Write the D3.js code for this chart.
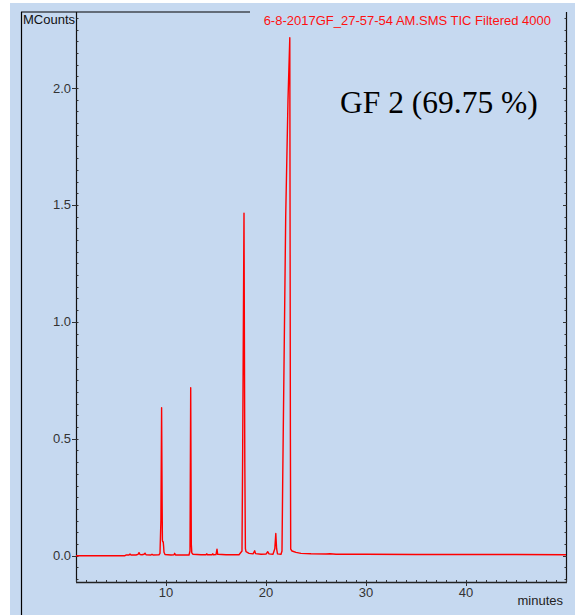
<!DOCTYPE html>
<html>
<head>
<meta charset="utf-8">
<script src="https://cdn.jsdelivr.net/npm/d3@7"></script>
<style>
html,body{margin:0;padding:0;background:#fff;}
svg{display:block;}
</style>
</head>
<body>
<svg id="chart" width="575" height="615"></svg>
<script>
// ---- data (minutes, MCounts) ----
const times = [1.0,5.9,6.0,6.3,6.4,6.5,7.0,7.2,7.3,7.4,7.6,7.8,7.9,8.0,8.5,8.6,8.7,9.3,9.4,
  9.49,9.56,9.61,9.64,9.67,9.72,9.76,9.8,9.9,10.5,10.8,10.87,10.95,
  12.3,12.4,12.47,12.53,12.58,12.7,13.5,14.0,14.07,14.15,14.6,14.67,14.75,15.0,15.1,15.17,16.0,
  17.3,17.6,17.66,17.8,17.88,17.94,18.0,18.3,18.7,18.87,18.95,19.5,20.0,20.17,20.3,20.7,20.88,20.98,21.06,21.15,
  21.5,21.6,21.67,21.97,22.2,22.38,22.44,22.47,22.6,23.0,23.5,24.5,26.0,26.4,27.0,30.0,35.0,40.0,45.0,50.0];
const counts = [0.000,0.000,0.003,0.003,0.007,0.003,0.003,0.006,0.013,0.005,0.004,0.006,0.011,0.004,0.003,0.006,0.003,0.004,0.010,
  0.15,0.633,0.25,0.067,0.06,0.06,0.041,0.015,0.005,0.003,0.004,0.010,0.003,
  0.003,0.02,0.718,0.05,0.012,0.006,0.004,0.004,0.008,0.004,0.004,0.008,0.004,0.005,0.028,0.006,0.004,
  0.004,0.02,0.4,1.465,0.4,0.03,0.017,0.010,0.008,0.021,0.009,0.006,0.007,0.017,0.008,0.006,0.03,0.095,0.03,0.008,
  0.006,0.02,0.32,1.45,1.95,2.215,0.5,0.028,0.02,0.014,0.010,0.008,0.007,0.008,0.006,0.006,0.005,0.005,0.005,0.004];
const xTicks = [10,20,30,40];
const yTicks = [0.0,0.5,1.0,1.5,2.0];
const yLabels = ["0.0","0.5","1.0","1.5","2.0"];
const titleText = "6-8-2017GF_27-57-54 AM.SMS TIC Filtered 4000";
const annotText = "GF 2 (69.75 %)";
const yUnit = "MCounts";
const xUnit = "minutes";

const svg = d3.select("#chart");
const W = 575, H = 615;
const bg = "rgb(198,217,240)";
const sans = "Liberation Sans, Arial, sans-serif";
svg.append("rect").attr("x",10).attr("y",3).attr("width",W-10).attr("height",H-3).attr("fill",bg);

const x = d3.scaleLinear().domain([1,50]).range([76,566]);
const y = d3.scaleLinear().domain([-0.1125,2.325]).range([582,12]);

// outer frame lines
svg.append("line").attr("x1",21.5).attr("x2",21.5).attr("y1",12).attr("y2",615).attr("stroke","#000").attr("stroke-width",1.2);
svg.append("line").attr("x1",21).attr("x2",250).attr("y1",12).attr("y2",12).attr("stroke","#000").attr("stroke-width",1.2);

// y axis (left)
const yMinor = d3.range(-0.1, 2.3001, 0.05);
const gy = svg.append("g");
gy.append("line").attr("x1",76.5).attr("x2",76.5).attr("y1",12).attr("y2",582).attr("stroke","#111").attr("stroke-width",1.2);
gy.selectAll(".ym").data(yMinor).join("line")
  .attr("x1",76.5).attr("x2",78.5).attr("y1",d=>Math.round(y(d))+0.5).attr("y2",d=>Math.round(y(d))+0.5)
  .attr("stroke","#333").attr("stroke-width",1);
gy.selectAll(".yM").data(yTicks).join("line")
  .attr("x1",72).attr("x2",76.5).attr("y1",d=>Math.round(y(d))+0.5).attr("y2",d=>Math.round(y(d))+0.5)
  .attr("stroke","#333").attr("stroke-width",1);
gy.selectAll(".yl").data(yTicks).join("text")
  .attr("x",71).attr("y",d=>y(d)).attr("dy","0.35em").attr("text-anchor","end")
  .attr("font-family",sans).attr("font-size",13).attr("fill","#333")
  .text((d,i)=>yLabels[i]);

// right axis line
const gr = svg.append("g");
gr.append("line").attr("x1",566.5).attr("x2",566.5).attr("y1",12).attr("y2",582).attr("stroke","#111").attr("stroke-width",1.2);
gr.selectAll(".rm").data(yMinor).join("line")
  .attr("x1",564.5).attr("x2",566.5).attr("y1",d=>Math.round(y(d))+0.5).attr("y2",d=>Math.round(y(d))+0.5)
  .attr("stroke","#333").attr("stroke-width",1);
gr.selectAll(".rM").data(yTicks).join("line")
  .attr("x1",563).attr("x2",566.5).attr("y1",d=>Math.round(y(d))+0.5).attr("y2",d=>Math.round(y(d))+0.5)
  .attr("stroke","#333").attr("stroke-width",1);

// x axis (bottom)
const xMinor = d3.range(1, 50.01, 1);
const gx = svg.append("g");
gx.append("line").attr("x1",76).attr("x2",567).attr("y1",582.5).attr("y2",582.5).attr("stroke","#222").attr("stroke-width",1.3);
gx.selectAll(".xm").data(xMinor).join("line")
  .attr("x1",d=>Math.round(x(d))+0.5).attr("x2",d=>Math.round(x(d))+0.5).attr("y1",580).attr("y2",582.5)
  .attr("stroke","#333").attr("stroke-width",1);
gx.selectAll(".xM").data(xTicks).join("line")
  .attr("x1",d=>Math.round(x(d))+0.5).attr("x2",d=>Math.round(x(d))+0.5).attr("y1",582.5).attr("y2",586)
  .attr("stroke","#333").attr("stroke-width",1);
gx.selectAll(".xl").data(xTicks).join("text")
  .attr("x",d=>x(d)).attr("y",597).attr("text-anchor","middle")
  .attr("font-family",sans).attr("font-size",13).attr("fill","#333")
  .text(d=>d);

// unit labels
svg.append("text").attr("x",23).attr("y",24).attr("font-family",sans)
  .attr("font-size",13).attr("fill","#111").text(yUnit);
svg.append("text").attr("x",563).attr("y",605).attr("text-anchor","end").attr("font-family",sans)
  .attr("font-size",13).attr("fill","#222").text(xUnit);

// title
svg.append("text").attr("x",551).attr("y",25).attr("text-anchor","end").attr("font-family",sans)
  .attr("font-size",13).attr("fill","#ff1010").text(titleText);

// annotation
svg.append("text").attr("x",340).attr("y",113).attr("font-family","Liberation Serif, Times New Roman, serif")
  .attr("font-size",31.5).attr("fill","#000").text(annotText);

// trace
const pts = times.map((t,i)=>[t,counts[i]]);
const line = d3.line().x(d=>x(d[0])).y(d=>y(d[1]));
svg.append("path").datum(pts).attr("d",line).attr("fill","none")
  .attr("stroke","#ff0000").attr("stroke-width",1.4).attr("stroke-linejoin","round");
</script>
</body>
</html>
